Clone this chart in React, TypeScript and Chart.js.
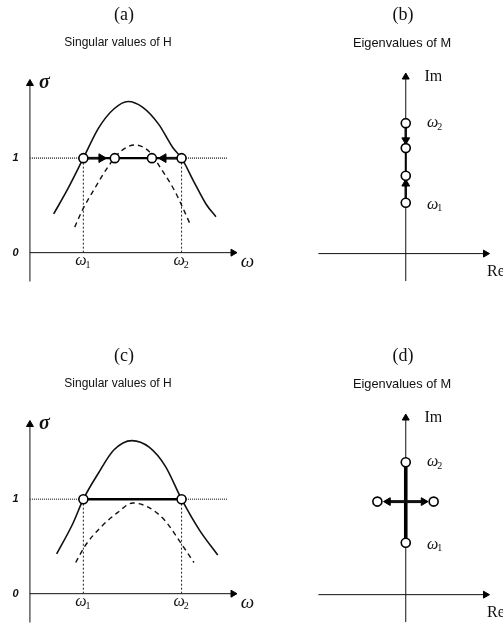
import React, { useEffect, useRef } from "react";
import { Chart, registerables } from "chart.js";

Chart.register(...registerables);

// ---------- Panels (a) and (c): singular values of H ----------
const omegaBand = [2.72, 7.72]; // ω1, ω2
const sigmaTicks = [0, 1];
const sigmaTickLabels = ["0", "1"];

const solidOmegaA = [1.21, 1.94, 2.72, 3.5, 4.27, 5.0, 5.73, 6.55, 7.28, 7.72, 8.35, 8.98, 9.47];
const solidSigmaA = [0.41, 0.68, 1.0, 1.32, 1.52, 1.6, 1.54, 1.36, 1.11, 1.0, 0.75, 0.51, 0.38];
const dashedOmegaA = [2.28, 2.67, 3.3, 3.98, 4.61, 5.34, 6.07, 6.7, 7.38, 7.77, 8.16];
const dashedSigmaA = [0.27, 0.45, 0.68, 0.91, 1.07, 1.14, 1.07, 0.88, 0.65, 0.48, 0.3];
const crossingsA = [2.72, 4.32, 6.21, 7.72];
const arrowsA = [
  { from: 2.72, to: 3.64 },
  { from: 7.72, to: 6.8 },
];

const solidOmegaC = [1.36, 2.18, 2.72, 3.5, 4.27, 5.19, 6.07, 6.89, 7.72, 8.64, 9.56];
const solidSigmaC = [0.42, 0.74, 1.0, 1.28, 1.52, 1.62, 1.55, 1.35, 1.0, 0.67, 0.41];
const dashedOmegaC = [2.33, 2.82, 3.64, 4.47, 5.24, 6.07, 6.89, 7.67, 8.35];
const dashedSigmaC = [0.33, 0.51, 0.71, 0.86, 0.96, 0.91, 0.77, 0.54, 0.33];
const crossingsC = [2.72, 7.72];

// ---------- Panels (b) and (d): eigenvalues of M ----------
const eigImB = [5.23, 4.23, 3.12, 2.04];
const eigReB = [0, 0, 0, 0];
const arrowsB = [
  { from: 5.23, to: 4.55 },
  { from: 2.04, to: 2.8 },
];

const eigImD = [5.31, 2.08, 3.73, 3.73];
const eigReD = [0, 0, -1.15, 1.13];
const arrowsD = [
  { from: 0, to: -0.72 },
  { from: 0, to: 0.72 },
];

// ---------- helpers ----------
type Pt = { x: number; y: number };
const zip = (xs: number[], ys: number[]): Pt[] => xs.map((x, i) => ({ x, y: ys[i] }));

const lineDs = (data: Pt[], extra: any = {}) => ({
  data,
  showLine: true,
  pointRadius: 0,
  pointHoverRadius: 0,
  borderColor: "#111",
  borderWidth: 1.5,
  fill: false,
  tension: 0,
  ...extra,
});

const arrowDs = (data: Pt[], rot: number, head: number, width: number) =>
  lineDs(data, {
    borderWidth: width,
    pointRadius: [0, head],
    pointStyle: "triangle",
    pointRotation: [0, rot],
    pointBackgroundColor: "#000",
    pointBorderColor: "#000",
    pointBorderWidth: 1,
  });

const circleDs = (data: Pt[]) => ({
  data,
  showLine: false,
  pointRadius: 4.5,
  pointHoverRadius: 4.5,
  pointStyle: "circle",
  pointBackgroundColor: "#fff",
  pointBorderColor: "#000",
  pointBorderWidth: 1.6,
});

type Label = {
  text: string;
  sub?: string;
  x: number;
  y: number;
  font: string;
  subFont?: string;
  pixel?: boolean;
  color?: string;
};

const serif = "'Liberation Serif', 'DejaVu Serif', serif";
const sans = "'Liberation Sans', Arial, sans-serif";

const labelPlugin = (labels: Label[]) => ({
  id: "labels",
  afterDraw(chart: any) {
    const ctx = chart.ctx;
    const xs = chart.scales.x;
    const ys = chart.scales.y;
    ctx.save();
    ctx.textBaseline = "middle";
    for (const l of labels) {
      const px = l.pixel ? l.x : xs.getPixelForValue(l.x);
      const py = l.pixel ? l.y : ys.getPixelForValue(l.y);
      ctx.fillStyle = l.color || "#111";
      if (l.sub) {
        ctx.font = l.font;
        const bw = ctx.measureText(l.text).width;
        ctx.font = l.subFont || l.font;
        const sw = ctx.measureText(l.sub).width;
        const start = px - (bw + sw) / 2;
        ctx.textAlign = "left";
        ctx.font = l.font;
        ctx.fillText(l.text, start, py);
        ctx.font = l.subFont || l.font;
        ctx.fillText(l.sub, start + bw - 1, py + 4);
      } else {
        ctx.textAlign = "center";
        ctx.font = l.font;
        ctx.fillText(l.text, px, py);
      }
    }
    ctx.restore();
  },
});

type Frame = { ox: number; oy: number; ux: number; uy: number; w: number; h: number };

const makeConfig = (frame: Frame, datasets: any[], labels: Label[]) => ({
  type: "scatter",
  data: { datasets },
  options: {
    responsive: false,
    animation: false,
    events: [],
    layout: { padding: 0 },
    plugins: {
      legend: { display: false },
      tooltip: { enabled: false },
      title: { display: false },
    },
    scales: {
      x: {
        type: "linear",
        display: false,
        min: -frame.ox / frame.ux,
        max: (frame.w - frame.ox) / frame.ux,
      },
      y: {
        type: "linear",
        display: false,
        min: (frame.oy - frame.h) / frame.uy,
        max: frame.oy / frame.uy,
      },
    },
  },
  plugins: [labelPlugin(labels)],
});

// ---------- panel builders ----------
const singularPanel = (
  tag: string,
  solidX: number[],
  solidY: number[],
  dashX: number[],
  dashY: number[],
  crossings: number[],
  arrows: { from: number; to: number }[],
  h: number
) => {
  const frame: Frame = { ox: 25, oy: 257, ux: 20.6, uy: 98.5, w: 262, h };
  const datasets: any[] = [
    circleDs(crossings.map((x) => ({ x, y: 1 }))),
    ...arrows.map((a) =>
      arrowDs([{ x: a.from, y: 1 }, { x: a.to, y: 1 }], a.to > a.from ? 90 : 270, 5, 2.6)
    ),
    lineDs([{ x: omegaBand[0], y: 1 }, { x: omegaBand[1], y: 1 }], { borderWidth: 2.4, borderColor: "#000" }),
    lineDs(zip(solidX, solidY), { cubicInterpolationMode: "monotone", borderWidth: 1.6 }),
    lineDs(zip(dashX, dashY), { cubicInterpolationMode: "monotone", borderWidth: 1.4, borderDash: [5, 4] }),
    lineDs([{ x: 0, y: 1 }, { x: 10.05, y: 1 }], { borderColor: "#555", borderWidth: 1.6, borderDash: [1, 1] }),
    ...omegaBand.map((x) =>
      lineDs([{ x, y: 0 }, { x, y: 1 }], { borderWidth: 1, borderDash: [2, 2], borderColor: "#222" })
    ),
    arrowDs([{ x: 0, y: -0.305 }, { x: 0, y: 1.79 }], 0, 4, 1),
    arrowDs([{ x: 0, y: 0 }, { x: 10.34, y: 0 }], 90, 4, 1),
  ];
  const labels: Label[] = [
    { text: tag, x: 124, y: 15, font: `18px ${serif}`, pixel: true },
    { text: "Singular values of H", x: 118, y: 43, font: `12px ${sans}`, pixel: true },
    ...sigmaTicks.map((v, i) => ({
      text: sigmaTickLabels[i],
      x: -0.73,
      y: v,
      font: `bold italic 11px ${sans}`,
    })),
    { text: "σ", x: 0.73, y: 1.8, font: `bold italic 20px ${serif}` },
    { text: "ω", x: 11.07, y: -0.1, font: `italic 19px ${serif}` },
    ...omegaBand.map((x, i) => ({
      text: "ω",
      sub: String(i + 1),
      x,
      y: -0.09,
      font: `italic 16px ${serif}`,
      subFont: `10px ${serif}`,
    })),
  ];
  return makeConfig(frame, datasets, labels);
};

const eigenPanel = (
  tag: string,
  re: number[],
  im: number[],
  arrows: { from: number; to: number }[],
  vertical: boolean,
  h: number
) => {
  const frame: Frame = { ox: 145, oy: 258, ux: 26, uy: 26, w: 241, h };
  const om2 = im[0];
  const om1 = vertical ? im[3] : im[1];
  const center = vertical ? 0 : im[2];
  const datasets: any[] = [
    circleDs(zip(re, im)),
    ...arrows.map((a) =>
      vertical
        ? arrowDs([{ x: 0, y: a.from }, { x: 0, y: a.to }], a.to > a.from ? 0 : 180, 4.5, 2.2)
        : arrowDs([{ x: a.from, y: center }, { x: a.to, y: center }], a.to > a.from ? 90 : 270, 4.5, 3)
    ),
    lineDs([{ x: 0, y: om1 }, { x: 0, y: om2 }], { borderWidth: vertical ? 2 : 3.6, borderColor: "#000" }),
    arrowDs([{ x: 0, y: -1.1 }, { x: 0, y: 7.08 }], 0, 4, 1),
    arrowDs([{ x: -3.54, y: 0 }, { x: 3.23, y: 0 }], 90, 4, 1),
  ];
  const labels: Label[] = [
    { text: tag, x: 141, y: 15, font: `18px ${serif}`, pixel: true },
    { text: "Eigenvalues of M", x: 140, y: 43, font: `12.8px ${sans}`, pixel: true },
    { text: "Im", x: 1.12, y: 7.08, font: `16px ${serif}` },
    { text: "Re", x: 3.65, y: -0.73, font: `16px ${serif}` },
    { text: "ω", sub: "2", x: 1.19, y: om2, font: `italic 16px ${serif}`, subFont: `10px ${serif}` },
    { text: "ω", sub: "1", x: 1.19, y: om1 - 0.08, font: `italic 16px ${serif}`, subFont: `10px ${serif}` },
  ];
  return makeConfig(frame, datasets, labels);
};

function Panel(props: { left: number; top: number; width: number; height: number; build: () => any }) {
  const ref = useRef<HTMLCanvasElement>(null);
  useEffect(() => {
    const chart = new Chart(ref.current as HTMLCanvasElement, props.build());
    return () => chart.destroy();
  }, []);
  return (
    <canvas
      ref={ref}
      width={props.width}
      height={props.height}
      style={{ position: "absolute", left: props.left, top: props.top, width: props.width, height: props.height }}
    />
  );
}

export default function App() {
  return (
    <div style={{ position: "absolute", left: 0, top: 0, width: 503, height: 642, background: "#fff", overflow: "hidden" }}>
      <Panel left={0} top={0} width={262} height={300}
        build={() => singularPanel("(a)", solidOmegaA, solidSigmaA, dashedOmegaA, dashedSigmaA, crossingsA, arrowsA, 300)} />
      <Panel left={262} top={0} width={241} height={300}
        build={() => eigenPanel("(b)", eigReB, eigImB, arrowsB, true, 300)} />
      <Panel left={0} top={341} width={262} height={301}
        build={() => singularPanel("(c)", solidOmegaC, solidSigmaC, dashedOmegaC, dashedSigmaC, crossingsC, [], 301)} />
      <Panel left={262} top={341} width={241} height={301}
        build={() => eigenPanel("(d)", eigReD, eigImD, arrowsD, false, 301)} />
    </div>
  );
}
